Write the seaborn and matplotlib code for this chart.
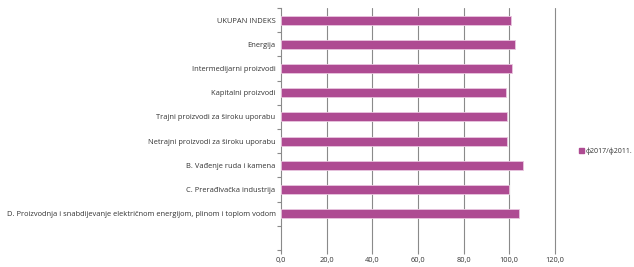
import matplotlib
matplotlib.use("Agg")
import matplotlib.pyplot as plt
import seaborn as sns
import pandas as pd
from matplotlib.patches import Patch

categories = [
    "UKUPAN INDEKS",
    "Energija",
    "Intermedijarni proizvodi",
    "Kapitalni proizvodi",
    "Trajni proizvodi za široku uporabu",
    "Netrajni proizvodi za široku uporabu",
    "B. Vađenje ruda i kamena",
    "C. Prerađivačka industrija",
    "D. Proizvodnja i snabdijevanje električnom energijom, plinom i toplom vodom",
]
values = [100.7, 102.6, 101.3, 98.5, 98.9, 99.1, 106.0, 100.1, 104.2]
series_name = "ф2017/ф2011."
xticks = [0, 20, 40, 60, 80, 100, 120]

df = pd.DataFrame({"cat": categories, "val": values})

sns.set_theme(style="white")
plt.rcParams["font.family"] = ["Open Sans", "DejaVu Sans"]

fig = plt.figure(figsize=(6.34, 2.67), dpi=100)
ax = fig.add_axes([0.4435, 0.0637, 0.4315, 0.9063])

color = "#AE4B92"
sns.barplot(data=df, x="val", y="cat", orient="h", color=color, width=0.38,
            edgecolor="#E9C6DF", linewidth=0.6, ax=ax, zorder=3, saturation=1)

ax.set_ylim(9.5, -0.5)
ax.set_xlim(0, 120)
ax.set_xticks(xticks)
ax.set_xticklabels([f"{t:.1f}".replace(".", ",") for t in xticks], fontsize=5.3, color="#333333")
ax.set_yticks([i for i in range(9)])
ax.set_yticklabels(categories, fontsize=5.4, color="#333333")
ax.set_xlabel("")
ax.set_ylabel("")

ax.grid(False)
for t in xticks[1:]:
    ax.axvline(t, color="#8a8a8a", linewidth=0.8, zorder=0, clip_on=False)
for s in ["top", "right", "bottom"]:
    ax.spines[s].set_visible(False)
ax.spines["left"].set_color("#8a8a8a")
ax.spines["left"].set_linewidth(0.8)

ax.set_yticks([i - 0.5 for i in range(11)], minor=True)
ax.tick_params(axis="y", which="minor", length=3, color="#8a8a8a", width=0.8, left=True)
ax.tick_params(axis="y", which="major", length=0, pad=4)
ax.tick_params(axis="x", which="major", length=3, color="#8a8a8a", width=0.8, bottom=True, pad=2)

handles = [Patch(facecolor=color, edgecolor=color, label=series_name)]
fig.legend(handles=handles, loc="center left", bbox_to_anchor=(0.911, 0.435),
           frameon=False, fontsize=5.0, handlelength=0.7, handleheight=0.7,
           handletextpad=0.2, borderaxespad=0.0, borderpad=0.2, labelcolor="#333333")

fig.savefig("out.png", dpi=100)
